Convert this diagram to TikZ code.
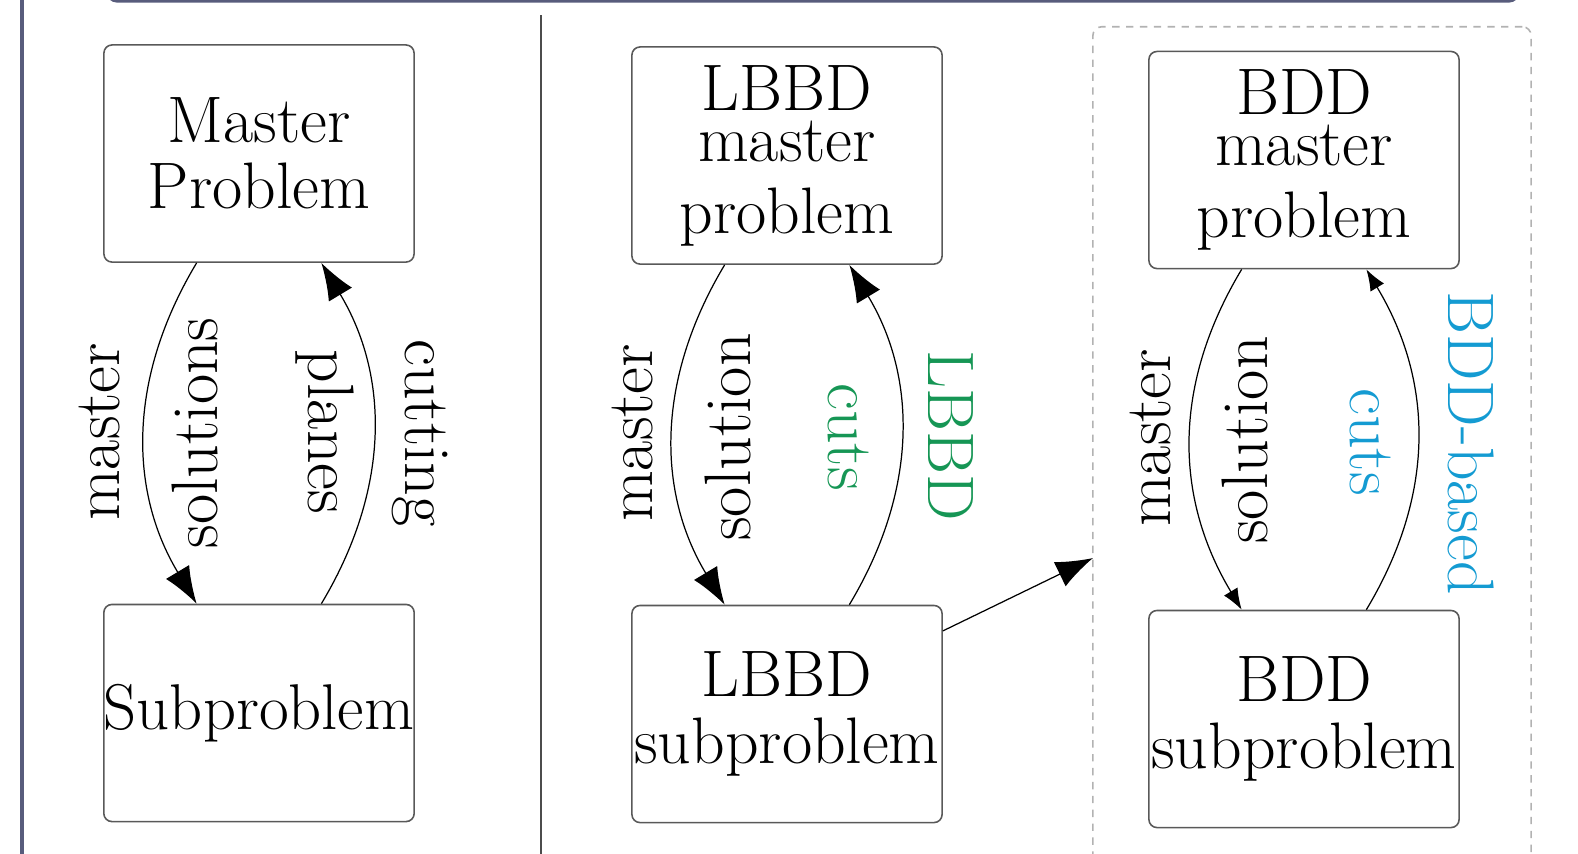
\documentclass[tikz,border=0pt]{standalone}
\usetikzlibrary{arrows.meta,calc}
\definecolor{frame}{RGB}{88,92,124}
\definecolor{lgreen}{RGB}{22,150,85}
\definecolor{lblue}{RGB}{20,155,210}
\begin{document}
\begin{tikzpicture}[x=0.01cm,y=-0.01cm,
  box/.style={draw=black!65,line width=0.45pt,rounded corners=2.3pt,minimum width=3.1cm,minimum height=2.17cm,inner sep=0pt,align=center},
  lbl/.style={font=\fontsize{18.7}{22}\selectfont,anchor=base,inner sep=0pt},
  flow/.style={line width=0.35pt,-{Latex[length=10.5pt,width=7.7pt]}},
  flowsm/.style={line width=0.35pt,-{Latex[length=6pt,width=4.5pt]}},
  group/.style={draw=black!30,line width=0.45pt,dash pattern=on 2.1pt off 1.85pt,rounded corners=2.5pt,minimum width=4.38cm,minimum height=8.8cm,inner sep=0pt},
]
\useasboundingbox (0,0) rectangle (1578,853);
% frame
\draw[frame,line width=1.1pt] (22,-5) -- (22,860);
\draw[frame,line width=0.85pt,rounded corners=3pt] (107,-40) rectangle (1519,1.2);
\draw[black!70,line width=0.3pt] (541,15) -- (541,860);
% group
\node[group] (grp) at (1312,467) {};
\coordinate (dtip) at (1093,558);
% boxes
\node[box,font=\fontsize{18.7}{18.8}\selectfont] (m1) at (259,153.5) {Master\\Problem};
\node[box,font=\fontsize{18.4}{22}\selectfont] (s1) at (259,713) {Subproblem};
\node[box,font=\fontsize{18.7}{14.5}\selectfont] (m2) at (787,155.5) {LBBD\\master\\[6pt]problem};
\node[box,font=\fontsize{18.7}{19.06}\selectfont] (s2) at (787,714) {LBBD\\subproblem};
\node[box,font=\fontsize{18.7}{14.5}\selectfont] (m3) at (1304,160) {BDD\\master\\[6pt]problem};
\node[box,font=\fontsize{18.7}{19.06}\selectfont] (s3) at (1304,719) {BDD\\subproblem};
% arrows
\draw[flow] ($(m1.south west)!0.3!(m1.south east)$) to[bend right=31] ($(s1.north west)!0.3!(s1.north east)$);
\draw[flow] ($(s1.north west)!0.7!(s1.north east)$) to[bend right=31] ($(m1.south west)!0.7!(m1.south east)$);
\draw[flow] ($(m2.south west)!0.3!(m2.south east)$) to[bend right=31] ($(s2.north west)!0.3!(s2.north east)$);
\draw[flow] ($(s2.north west)!0.7!(s2.north east)$) to[bend right=31] ($(m2.south west)!0.7!(m2.south east)$);
\draw[flowsm] ($(m3.south west)!0.3!(m3.south east)$) to[bend right=31] ($(s3.north west)!0.3!(s3.north east)$);
\draw[flowsm] ($(s3.north west)!0.7!(s3.north east)$) to[bend right=31] ($(m3.south west)!0.7!(m3.south east)$);
\draw[flow] ($(s2.north east)!0.12!(s2.south east)$) -- (dtip);
% labels
\node[lbl,rotate=90] (l1a) at (120,432) {master};
\node[lbl,rotate=90] (l1b) at (217,433) {solutions};
\node[lbl,rotate=-90] (l1c) at (405,433) {cutting};
\node[lbl,rotate=-90] (l1d) at (308,432) {planes};
\node[lbl,rotate=90] (l2a) at (652,433) {master};
\node[lbl,rotate=90] (l2b) at (750,437) {solution};
\node[lbl,rotate=-90,text=lgreen] (l2c) at (928,436) {LBBD};
\node[lbl,rotate=-90,text=lgreen] (l2d) at (828,437) {cuts};
\node[lbl,rotate=90] (l3a) at (1170,438) {master};
\node[lbl,rotate=90] (l3b) at (1267,440) {solution};
\node[lbl,rotate=-90,text=lblue] (l3c) at (1448,443) {BDD-based};
\node[lbl,rotate=-90,text=lblue] (l3d) at (1350,442) {cuts};
\end{tikzpicture}
\end{document}
